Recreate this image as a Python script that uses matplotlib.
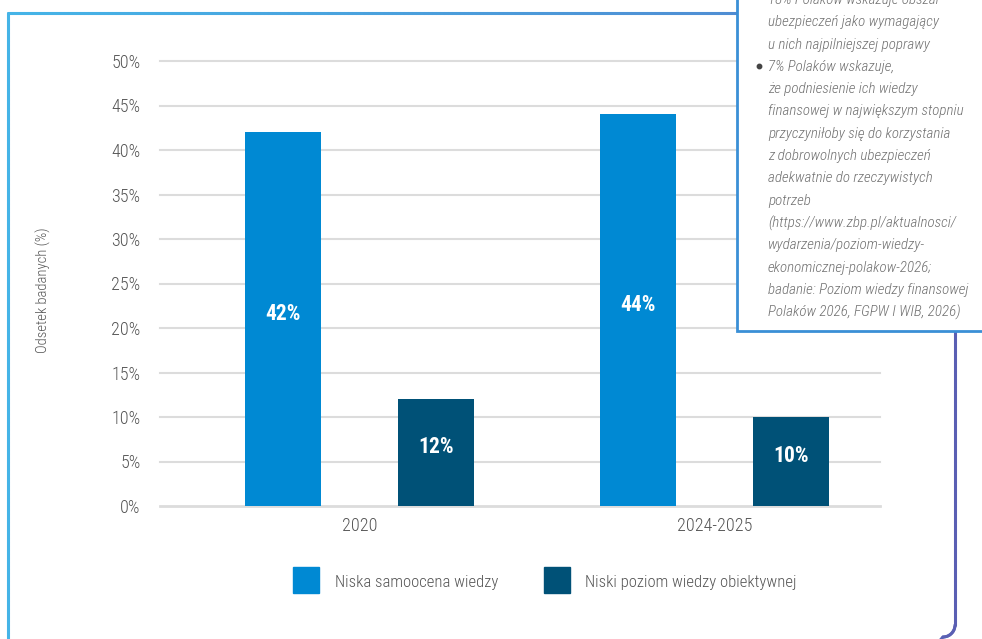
import numpy as np
import matplotlib
matplotlib.use("Agg")
import matplotlib.pyplot as plt
from matplotlib.collections import LineCollection
from matplotlib.colors import LinearSegmentedColormap
from matplotlib.patches import Rectangle

# chart data
categories = ["2020", "2024-2025"]
series_names = ["Niska samoocena wiedzy", "Niski poziom wiedzy obiektywnej"]
self_rated = [42, 44]
objective = [12, 10]
y_ticks = [0, 5, 10, 15, 20, 25, 30, 35, 40, 45, 50]

note_lines = [
    "18% Polaków wskazuje obszar",
    "ubezpieczeń jako wymagający",
    "u nich najpilniejszej poprawy",
    "7% Polaków wskazuje,",
    "że podniesienie ich wiedzy",
    "finansowej w największym stopniu",
    "przyczyniłoby się do korzystania",
    "z dobrowolnych ubezpieczeń",
    "adekwatnie do rzeczywistych",
    "potrzeb",
    "(https://www.zbp.pl/aktualnosci/",
    "wydarzenia/poziom-wiedzy-",
    "ekonomicznej-polakow-2026;",
    "badanie: Poziom wiedzy finansowej",
    "Polaków 2026, FGPW I WIB, 2026)",
]

LIGHT = "#0089d3"
DARK = "#005177"
GRID = "#dcdcdc"
TXT = "#555555"

plt.rcParams['font.family'] = ['Roboto Condensed', 'Liberation Sans Narrow', 'DejaVu Sans']

W, H = 982, 639
fig = plt.figure(figsize=(W / 100, H / 100), dpi=100)

# background layer in pixel coords: outer frame with a blue -> violet gradient
bg = fig.add_axes([0, 0, 1, 1], zorder=0)
bg.set_xlim(0, W)
bg.set_ylim(H, 0)
bg.axis("off")

path = [(8, 645), (8, 13), (955, 13), (955, 625)]
arc_t = np.linspace(0, np.pi / 2, 12)
arc = [(943 + 12 * np.cos(t), 625 + 12 * np.sin(t)) for t in arc_t]
pts = []
for (x0, y0), (x1, y1) in zip(path[:-1], path[1:]):
    n = int(max(abs(x1 - x0), abs(y1 - y0)) / 4) + 2
    pts += list(zip(np.linspace(x0, x1, n), np.linspace(y0, y1, n)))
pts += arc + [(936, 645)]
pts = np.array(pts)
segs = np.stack([pts[:-1], pts[1:]], axis=1)
frame_cmap = LinearSegmentedColormap.from_list(
    "frame", [(0, "#45b4e7"), (0.75, "#4f8fd4"), (1, "#5a5fb3")])
lc = LineCollection(segs, cmap=frame_cmap, linewidths=2.2, capstyle="round")
lc.set_array((segs[:, 0, 0] - 8) / (955 - 8))
lc.set_clim(0, 1)
bg.add_collection(lc)

# main bar chart
ax = fig.add_axes([160 / W, (H - 506) / H, 720 / W, 445 / H], zorder=1)
ax.patch.set_alpha(0)
x = np.arange(len(categories))
bw = 0.214
off = 0.2155
b1 = ax.bar(x - off, self_rated, bw, color=LIGHT, label=series_names[0], zorder=3)
b2 = ax.bar(x + off, objective, bw, color=DARK, label=series_names[1], zorder=3)

for bars, vals in [(b1, self_rated), (b2, objective)]:
    for rect, v in zip(bars, vals):
        ax.text(rect.get_x() + rect.get_width() / 2, v / 2 + 0.6, f"{v}%",
                ha="center", va="center", color="white", fontsize=15.5,
                fontweight="bold", zorder=4)

ax.set_xlim(-0.562, 1.466)
ax.set_ylim(0, 50)
ax.set_yticks(y_ticks)
ax.set_yticklabels([f"{t}%" for t in y_ticks])
ax.set_xticks(x)
ax.set_xticklabels(categories)
ax.tick_params(axis="both", length=0, labelsize=13, labelcolor=TXT)
ax.tick_params(axis="y", pad=14)
ax.tick_params(axis="x", pad=8)
for lab in ax.get_xticklabels() + ax.get_yticklabels():
    lab.set_fontweight("light")
for t in y_ticks:
    ax.axhline(t, color=GRID, lw=1.5 if t else 2, zorder=1, clip_on=False)
for s in ax.spines.values():
    s.set_visible(False)

fig.text(43 / W, 1 - 290 / H, "Odsetek badanych (%)", rotation=90,
         ha="center", va="center", fontsize=10.5, fontweight="light", color=TXT)

# legend drawn by hand with square swatches
fg = fig.add_axes([0, 0, 1, 1], zorder=2)
fg.set_xlim(0, W)
fg.set_ylim(H, 0)
fg.axis("off")
fg.patch.set_alpha(0)
for sx, tx, col, name in [(293, 335, LIGHT, series_names[0]), (544, 585, DARK, series_names[1])]:
    fg.add_patch(Rectangle((sx, 567), 26, 26, color=col))
    fg.text(tx, 582, name, ha="left", va="center", fontsize=12, fontweight="light",
            color=TXT)

# note box in the upper right corner
fg.add_patch(Rectangle((737, -10), 260, 341, facecolor="white",
                       edgecolor="#3a8fd6", lw=2, zorder=5))
for i, line in enumerate(note_lines):
    y = 0 + i * 22.3
    if line.startswith("7%"):
        fg.plot(759, y - 1, "o", color="#444444", ms=3.2, zorder=6)
    fg.text(768, y, line, ha="left", va="center", fontsize=10.8, style="italic",
            fontweight="light", color="#707070", zorder=6)

fig.savefig("out.png", dpi=100)
